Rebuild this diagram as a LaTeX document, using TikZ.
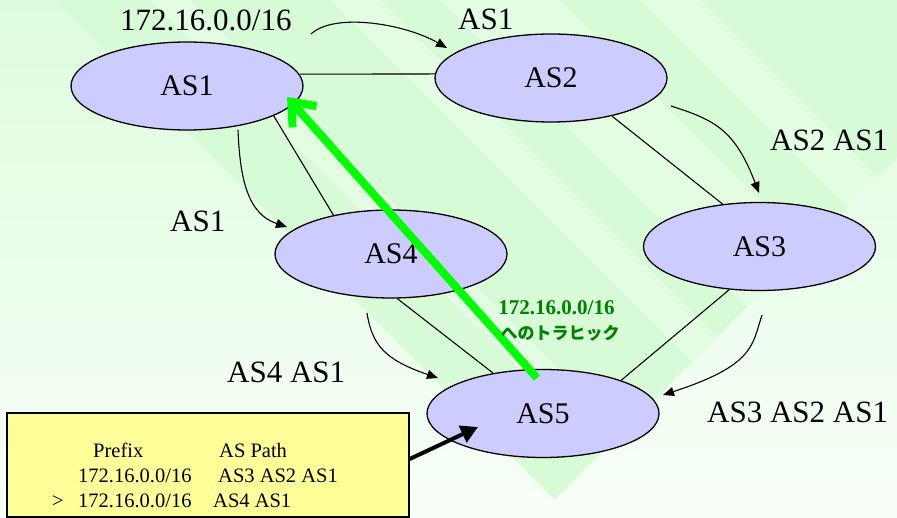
\documentclass[tikz,border=0pt]{standalone}
\usepackage{fontspec}
\setmainfont{Liberation Serif}
\newfontfamily\jpfont{Noto Sans CJK JP}
\usetikzlibrary{shapes.geometric,arrows.meta}

\definecolor{nodefill}{HTML}{CCCCFF}
\definecolor{tablefill}{HTML}{FFFF99}
\definecolor{trafficgreen}{HTML}{00FF00}
\definecolor{labelgreen}{HTML}{008000}
\definecolor{bgtop}{HTML}{DDFCDD}
\definecolor{bgbottom}{HTML}{F8FFF8}
\definecolor{bandA}{HTML}{D6FBD6}
\definecolor{bandB}{HTML}{E3FDE3}

\begin{document}
\begin{tikzpicture}[x=1pt,y=-1pt,
  asnode/.style={ellipse, draw=black, line width=1.3pt, fill=nodefill,
    minimum width=232pt, minimum height=88pt, inner sep=0pt,
    font=\fontsize{30}{36}\selectfont},
  biglabel/.style={anchor=base west, inner sep=0pt, font=\fontsize{31}{37}\selectfont},
  tablelabel/.style={anchor=base west, inner sep=0pt, font=\fontsize{20.5}{24}\selectfont},
  link/.style={line width=1.1pt},
  advert/.style={line width=1.1pt, -{Triangle[length=11pt,width=9pt]}},
  greenlabel/.style={anchor=base, inner sep=0pt, text=labelgreen},
]
\useasboundingbox (0,0) rectangle (897,518);

% background: soft vertical wash plus a striped diagonal band
\shade[top color=bgtop, bottom color=bgbottom] (0,0) rectangle (897,518);
\begin{scope}
  \clip (0,0) rectangle (897,518);
  \clip (-200,-255) -- (554.5,499.5) -- (1300,-246) -- cycle;
  \fill[bandA] (-200,-255) -- (554.5,499.5) -- (1300,-246) -- cycle;
  \foreach \ca/\cb in {-150/-190, -330/-380, -440/-560, -640/-700} {
    \fill[bandB] (-300,{-300+\ca}) -- (1300,{1300+\ca}) -- (1300,{1300+\cb}) -- (-300,{-300+\cb}) -- cycle;
  }
\end{scope}

% autonomous systems
\node[asnode] (as1) at (187,86) {AS1};
\node[asnode] (as2) at (551,78) {AS2};
\node[asnode] (as3) at (759.5,246.5) {AS3};
\node[asnode] (as4) at (391,254) {AS4};
\node[asnode] (as5) at (543,413.5) {AS5};

% peering links
\draw[link] (as1.6) -- (as2.178);
\draw[link] (as2.-32.6) -- (as3.131.4);
\draw[link] (as1.-19.4) -- (as4.146.5);
\draw[link] (as4.-82.4) -- (as5.141.5);
\draw[link] (as3.-125.9) -- (as5.23);

% route advertisements
\coordinate (adv1s) at (311,34);  \coordinate (adv1e) at (447,48);
\coordinate (adv2s) at (671,106); \coordinate (adv2e) at (759,193);
\coordinate (adv3s) at (238,130); \coordinate (adv3e) at (287,227);
\coordinate (adv4s) at (367,313); \coordinate (adv4e) at (438,378);
\coordinate (adv5s) at (762,315); \coordinate (adv5e) at (663,395);
\draw[advert] (adv1s) .. controls (335,12) and (405,24) .. (adv1e);
\draw[advert] (adv2s) .. controls (715,120) and (735,130) .. (adv2e);
\draw[advert] (adv3s) .. controls (240,180) and (248,214) .. (adv3e);
\draw[advert] (adv4s) .. controls (372,345) and (385,360) .. (adv4e);
\draw[advert] (adv5s) .. controls (752,345) and (755,365) .. (adv5e);

% advertised paths
\node[biglabel] (lprefix) at (120,31) {172.16.0.0/16};
\node[biglabel] (l12) at (458,30) {AS1};
\node[biglabel] (l23) at (770,151) {AS2 AS1};
\node[biglabel] (l14) at (170,232) {AS1};
\node[biglabel] (l45) at (227,383) {AS4 AS1};
\node[biglabel] (l35) at (707,423) {AS3 AS2 AS1};

% traffic towards the prefix
\coordinate (trafficfrom) at (537,378);
\coordinate (trafficto) at (287,97);
\draw[trafficgreen, line width=8pt, -{Straight Barb[length=20pt,width=32pt]}] (trafficfrom) -- (trafficto);
\node[greenlabel, font=\bfseries\fontsize{21}{24}\selectfont] (tprefix) at (556.5,315) {172.16.0.0/16};
\node[greenlabel, font=\jpfont\bfseries\fontsize{17}{20}\selectfont] (ttext) at (560,340) {へのトラヒック};

% routing table of AS5
\node[draw=black, line width=1.3pt, fill=tablefill, minimum width=402pt,
  minimum height=104pt, inner sep=0pt] (ribtable) at (208,465) {};
\node[tablelabel] (hprefix) at (93,457) {Prefix};
\node[tablelabel] (hpath) at (219,457) {AS Path};
\node[tablelabel] (r1prefix) at (78,482) {172.16.0.0/16};
\node[tablelabel] (r1path) at (218,482) {AS3 AS2 AS1};
\node[tablelabel] (r2best) at (52,507) {>};
\node[tablelabel] (r2prefix) at (78,507) {172.16.0.0/16};
\node[tablelabel] (r2path) at (213,507) {AS4 AS1};

\coordinate (ribtip) at (478,427);
\draw[line width=4pt, -{Triangle[length=17pt,width=18pt]}] ([yshift=6pt]ribtable.east) -- (ribtip);
\end{tikzpicture}
\end{document}
